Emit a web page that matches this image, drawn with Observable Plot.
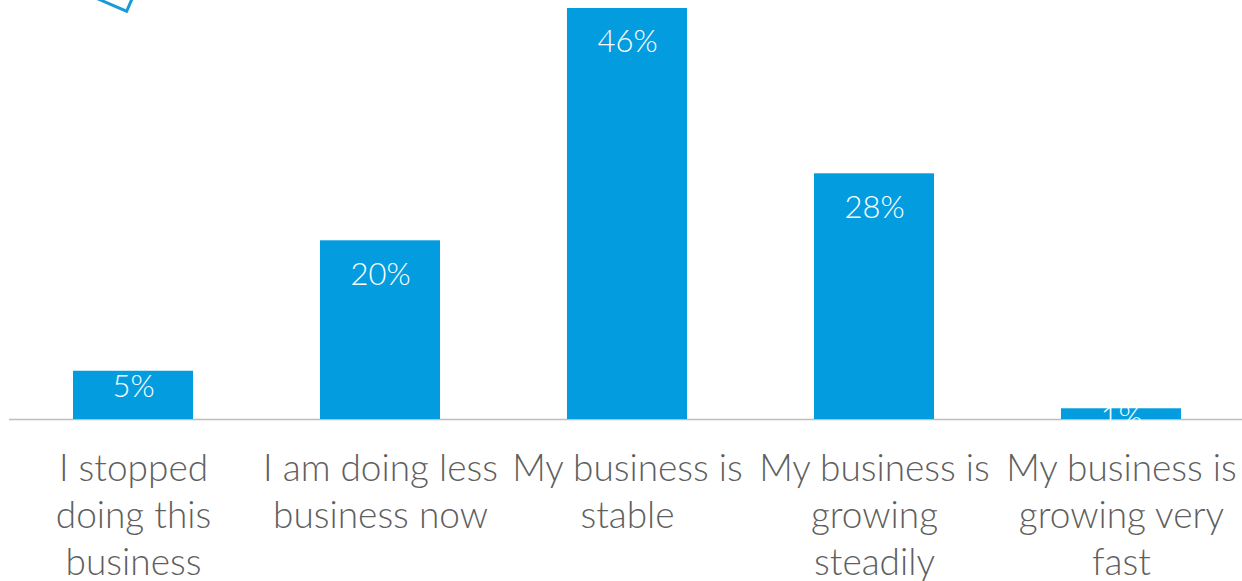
<!DOCTYPE html>
<html>
<head>
<meta charset="utf-8">
<script src="https://cdn.jsdelivr.net/npm/d3@7"></script>
<script src="https://cdn.jsdelivr.net/npm/@observablehq/plot@0.6"></script>
<style>
  html, body { margin: 0; padding: 0; background: #fff; overflow: hidden; }
  #wrap { position: relative; width: 1242px; height: 581px; }
  #deco {
    position: absolute; width: 40px; height: 40px;
    left: 96.6px; top: -33.3px;
    border: 3px solid #1a9ad6; box-sizing: border-box;
    transform: rotate(23.4deg);
  }
  svg { font-family: Lato, "Open Sans", sans-serif; }
</style>
</head>
<body>
<div id="wrap"><div id="deco"></div></div>
<script>
const categories = [
  "I stopped\ndoing this\nbusiness",
  "I am doing less\nbusiness now",
  "My business is\nstable",
  "My business is\ngrowing\nsteadily",
  "My business is\ngrowing very\nfast"
];
const values = [5.4, 20.0, 46.0, 27.5, 1.2];
const valueLabels = ["5%", "20%", "46%", "28%", "1%"];

const data = categories.map((c, i) => ({category: c, value: values[i], label: valueLabels[i]}));

const blue = "#039ddf";
const labelFont = {fill: "white", fontSize: 31, fontWeight: 300, lineAnchor: "middle", textAnchor: "middle"};

const chart = Plot.plot({
  width: 1242,
  height: 581,
  marginTop: 8,
  marginBottom: 162,
  marginLeft: 9,
  marginRight: 0,
  x: {domain: categories, paddingInner: 0.514, paddingOuter: 0.253, align: 0.512, round: false, axis: null},
  y: {domain: [0, 46], axis: null},
  marks: [
    Plot.ruleY([0], {stroke: "#bdbdbd", strokeWidth: 1.5}),
    Plot.barY(data, {x: "category", y: "value", fill: blue}),
    Plot.text(data, {filter: d => d.value > 10, x: "category", y: "value", text: "label", dy: 34, ...labelFont}),
    Plot.text(data, {filter: d => d.value <= 10 && d.value > 3, x: "category", y: "value", text: "label", dy: 16, ...labelFont}),
    Plot.text(data, {filter: d => d.value <= 3, x: "category", y: "value", text: "label", dy: 9, ...labelFont}),
    Plot.axisX({
      tickSize: 0,
      tickPadding: 28,
      fontSize: 37,
      fontWeight: 300,
      lineHeight: 1.27,
      lineAnchor: "top",
      fill: "#5f5f5f",
      label: null
    })
  ]
});
document.getElementById("wrap").prepend(chart);
</script>
</body>
</html>
